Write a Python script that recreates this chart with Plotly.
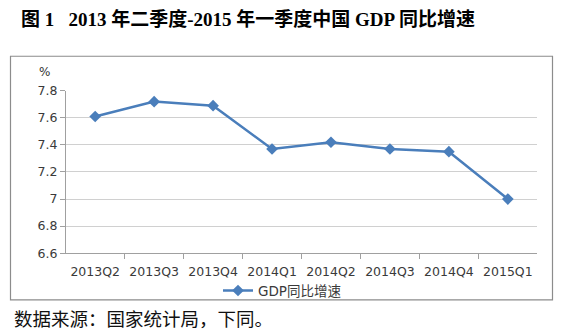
import plotly.graph_objects as go

categories = ["2013Q2", "2013Q3", "2013Q4", "2014Q1", "2014Q2", "2014Q3", "2014Q4", "2015Q1"]
gdp_growth = [7.61, 7.72, 7.69, 7.37, 7.42, 7.37, 7.35, 7.0]
y_ticks = [6.6, 6.8, 7.0, 7.2, 7.4, 7.6, 7.8]
y_tick_labels = ["6.6", "6.8", "7", "7.2", "7.4", "7.6", "7.8"]

W, H = 572, 334
px = lambda x: x / W
py = lambda y: 1 - y / H

fig = go.Figure()
fig.add_trace(go.Scatter(
    x=categories, y=gdp_growth, mode="lines+markers", name="GDP同比增速",
    line=dict(color="#4A7EBB", width=2.5),
    marker=dict(symbol="diamond", size=9, color="#4A7EBB"),
))

tick_font = dict(family="DejaVu Sans, Noto Sans CJK SC", size=12.5, color="#3a3a3a")
fig.update_layout(
    width=W, height=H,
    margin=dict(l=0, r=0, t=0, b=0),
    paper_bgcolor="white", plot_bgcolor="white",
    showlegend=True,
    legend=dict(orientation="h", x=px(282), y=py(296), xanchor="center", yanchor="middle",
                font=dict(family="DejaVu Sans, Noto Sans CJK SC", size=13.5, color="#3a3a3a"),
                bgcolor="rgba(0,0,0,0)"),
    xaxis=dict(domain=[px(66), px(537)], type="category", showline=True, linecolor="#A0A0A0",
               linewidth=1, ticks="outside", tickson="boundaries", ticklen=5, tickcolor="#A0A0A0",
               showgrid=False, tickfont=tick_font, fixedrange=True, ticklabelstandoff=7),
    yaxis=dict(domain=[py(256.7), py(86.7)], range=[6.6, 7.8], tickvals=y_ticks, ticktext=y_tick_labels,
               showline=True, linecolor="#A0A0A0", linewidth=1, ticks="outside", ticklen=5,
               tickcolor="#A0A0A0", showgrid=True, gridcolor="#D0D0D0", gridwidth=1,
               zeroline=False, tickfont=dict(family="DejaVu Sans", size=12.5, color="#3a3a3a")),
    shapes=[dict(type="rect", xref="paper", yref="paper", x0=px(10.5), x1=px(552.5), y0=py(305.5), y1=py(50.5),
                 line=dict(color="#8C8C8C", width=1.2), fillcolor="rgba(0,0,0,0)", layer="below")],
    annotations=[
        dict(text="<b>图 1   2013 年二季度-2015 年一季度中国 GDP 同比增速</b>", x=px(19), y=py(12),
             xref="paper", yref="paper", xanchor="left", yanchor="middle", showarrow=False,
             font=dict(family="Liberation Serif, Noto Sans CJK SC", size=19, color="#000000")),
        dict(text="%", x=px(44), y=py(67), xref="paper", yref="paper", xanchor="center", yanchor="middle",
             showarrow=False, font=dict(family="DejaVu Sans", size=12, color="#333333")),
        dict(text="数据来源：国家统计局，下同。", x=px(12), y=py(325), xref="paper", yref="paper",
             xanchor="left", yanchor="middle", showarrow=False,
             font=dict(family="Noto Sans CJK SC", size=18.5, color="#111111")),
    ],
)
fig.write_html("out.html")
